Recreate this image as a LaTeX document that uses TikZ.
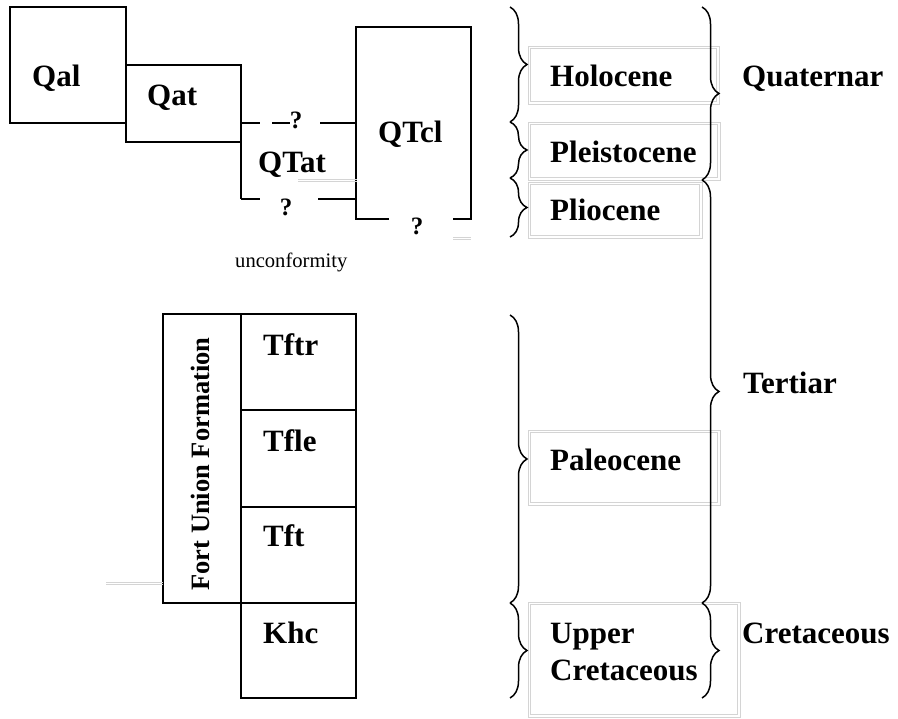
\documentclass[tikz,border=0pt]{standalone}
\usepackage{fontspec}
\setmainfont{Liberation Serif}
\usetikzlibrary{decorations.pathreplacing}
\begin{document}
\begin{tikzpicture}[x=1pt,y=-1pt,
  box/.style={line width=1.4pt},
  lbl/.style={font=\bfseries\fontsize{31}{37}\selectfont, inner sep=0pt, anchor=base west},
  qm/.style={font=\bfseries\fontsize{25}{25}\selectfont, inner sep=0pt, anchor=base},
  faint/.style={draw=black!17, line width=0.8pt},
  brc/.style={decorate, decoration={brace, amplitude=17pt}, line width=1.5pt}]
\useasboundingbox (0,0) rectangle (898,719);

% ---- Quaternary deposits ----
\draw[box] (10,7) rectangle (126,123);
\draw[box] (126,65) rectangle (241,142);
\draw[box] (241,142) -- (241,199);
\draw[box] (241,123) -- (260,123) (272,123) -- (290,123) (320,123) -- (356,123);
\draw[box] (241,199) -- (260,199) (318,199) -- (356,199);
\draw[box] (389,219) -- (356,219) -- (356,27) -- (471,27) -- (471,219) -- (453,219);
\draw[faint] (298,179) -- (357,179) (298,181.2) -- (357,181.2);
\draw[faint] (453,237) -- (471,237) (453,239.2) -- (471,239.2);

\node[lbl] (qal) at (32,87) {Qal};
\node[lbl] (qat) at (147,106) {Qat};
\node[lbl] (qtat) at (258,173) {QTat};
\node[lbl] (qtcl) at (378,143) {QTcl};
\node[qm] (q1) at (296,129) {?};
\node[qm] (q2) at (286,216) {?};
\node[qm] (q3) at (417,235) {?};
\node[font=\fontsize{20.6}{24}\selectfont, inner sep=0pt, anchor=base west] (unc) at (235,268) {unconformity};

% ---- Fort Union column ----
\draw[box] (163,314) rectangle (241,603);
\draw[box] (241,314) rectangle (356,698);
\draw[box] (241,410) -- (356,410);
\draw[box] (241,507) -- (356,507);
\draw[box] (241,603) -- (356,603);
\draw[faint] (106,582) -- (163,582) (106,584.2) -- (163,584.2);
\node[font=\bfseries\fontsize{26.5}{30}\selectfont, inner sep=0pt, anchor=base, rotate=90] (fu) at (209,464) {Fort Union Formation};
\node[lbl] (tftr) at (263,356) {Tftr};
\node[lbl] (tfle) at (263,452) {Tfle};
\node[lbl] (tft) at (263,547) {Tft};
\node[lbl] (khc) at (263,643) {Khc};

% ---- epoch boxes ----
\foreach \xa/\ya/\xb/\yb in {528/46/719/104, 528/122/720/180, 528/182/702/238, 528/430/720/505, 528/602/740/717}{
  \draw[faint] (\xa,\ya) rectangle (\xb,\yb);
  \draw[faint] (\xa+2.2,\ya+2.2) rectangle (\xb-2.2,\yb-2.2);
}
\node[lbl] (holo) at (550,87) {Holocene};
\node[lbl] (pleis) at (550,163) {Pleistocene};
\node[lbl] (plio) at (550,221) {Pliocene};
\node[lbl] (paleo) at (550,471) {Paleocene};
\node[lbl] (upper) at (550,643) {Upper};
\node[lbl] (cretl) at (550,680) {Cretaceous};

% ---- periods ----
\node[lbl] (quat) at (742,87) {Quaternar};
\node[lbl] (tert) at (743,394) {Tertiar};
\node[lbl] (cretr) at (742,643) {Cretaceous};

% ---- braces ----
\coordinate (b1) at (510,7);
\coordinate (b2) at (510,122);
\coordinate (b3) at (510,178);
\coordinate (b4) at (510,237);
\coordinate (b5) at (510,315);
\coordinate (b6) at (510,603);
\coordinate (b7) at (510,698);
\draw[brc] (b1) -- (b2);
\draw[brc] (b2) -- (b3);
\draw[brc] (b3) -- (b4);
\draw[brc] (b5) -- (b6);
\draw[brc] (b6) -- (b7);
\coordinate (c1) at (702,7);
\coordinate (c2) at (702,180);
\coordinate (c3) at (702,603);
\coordinate (c4) at (702,698);
\draw[brc] (c1) -- (c2);
\draw[brc] (c2) -- (c3);
\draw[brc] (c3) -- (c4);
\end{tikzpicture}
\end{document}
